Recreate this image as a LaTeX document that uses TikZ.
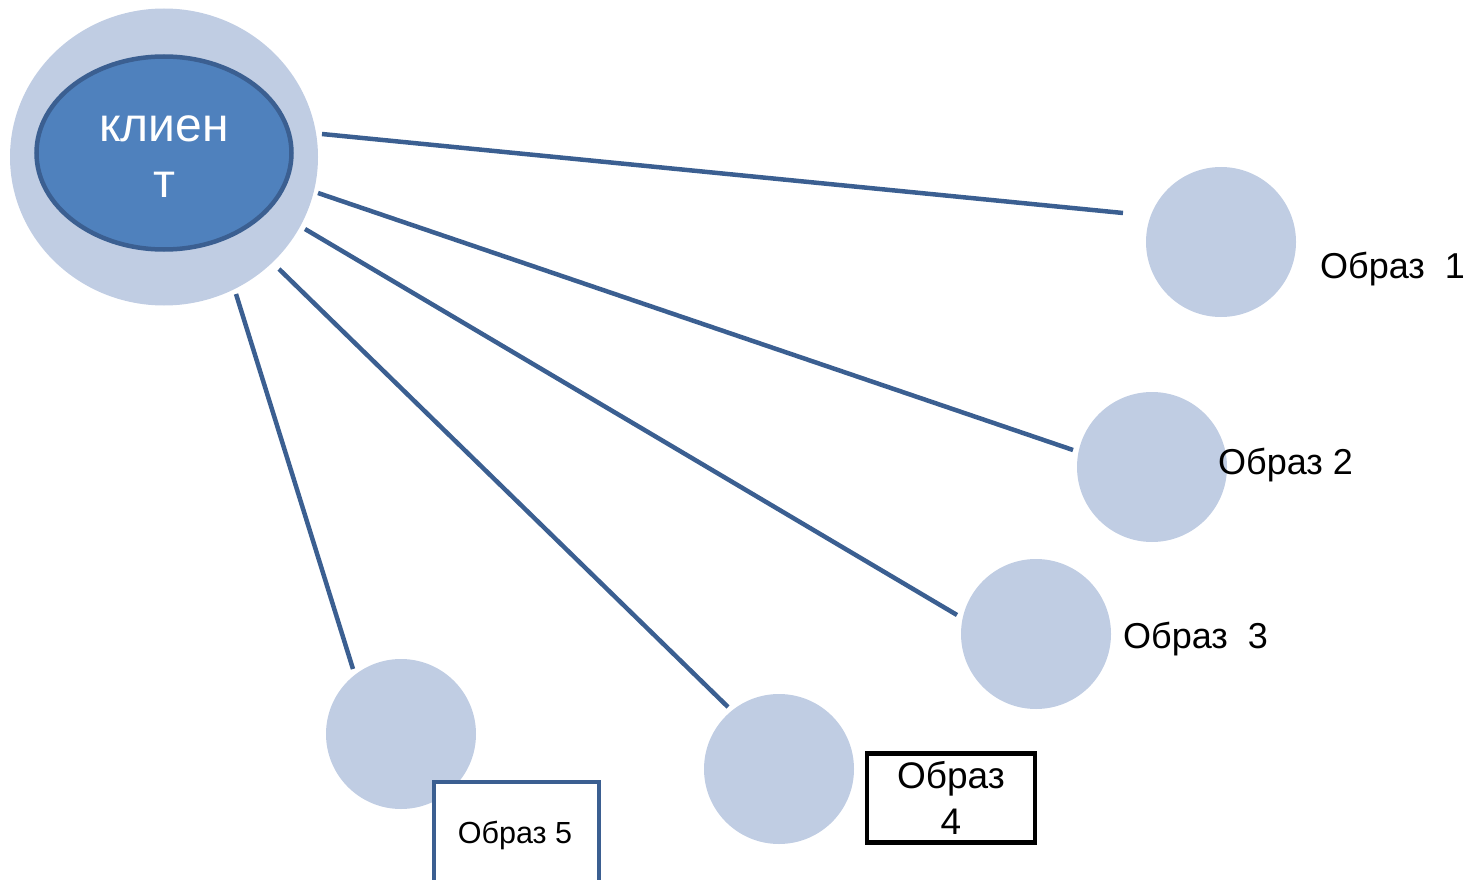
\documentclass[tikz,border=0pt]{standalone}
\usepackage{fontspec}
\setmainfont{Liberation Sans}
\usetikzlibrary{shapes.geometric}
\definecolor{lightblu}{RGB}{192,205,227}
\definecolor{midblu}{RGB}{79,129,189}
\definecolor{darkblu}{RGB}{59,95,145}
\begin{document}
\begin{tikzpicture}[x=1pt,y=-1pt,
  img/.style={circle,fill=lightblu,draw=none,minimum size=150pt,inner sep=0pt},
  link/.style={draw=darkblu,line width=4.5pt},
  lbl/.style={font=\fontsize{36}{42}\selectfont,inner sep=0pt,anchor=west}]
\useasboundingbox (0,0) rectangle (1470,880);
\node[ellipse,fill=lightblu,minimum width=308pt,minimum height=297pt,inner sep=0pt] (outer) at (164,157) {};
\node[ellipse,fill=midblu,draw=darkblu,line width=4.5pt,minimum width=255pt,minimum height=193pt,inner sep=0pt] (client) at (164,153) {};
\node[text=white,align=center,font=\fontsize{48}{56}\selectfont,inner sep=0pt] (clienttext) at (164,157) {клиен\\т};
% image circles
\node[img] (c1) at (1221,242) {};
\node[img] (c2) at (1152,467) {};
\node[img] (c3) at (1036,634) {};
\node[img] (c4) at (779,769) {};
\node[img] (c5) at (401,734) {};
% connector ends
\coordinate (a1) at (322,134); \coordinate (b1) at (1123,213);
\coordinate (a2) at (318,193); \coordinate (b2) at (1073,450);
\coordinate (a3) at (305,229); \coordinate (b3) at (957,615);
\coordinate (a4) at (279,269); \coordinate (b4) at (728,707);
\coordinate (a5) at (236,294); \coordinate (b5) at (353,669);
\draw[link] (a1) -- (b1);
\draw[link] (a2) -- (b2);
\draw[link] (a3) -- (b3);
\draw[link] (a4) -- (b4);
\draw[link] (a5) -- (b5);
% labels
\node[lbl] (l1) at (1320,269) {Образ\ \ 1};
\node[lbl] (l2) at (1218,465) {Образ 2};
\node[lbl] (l3) at (1123,639) {Образ\ \ 3};
\node[draw=black,line width=4.5pt,fill=white,minimum width=168pt,minimum height=89pt,inner sep=0pt] (l4) at (951,798) {};
\node[align=center,font=\fontsize{37}{46}\selectfont,inner sep=0pt] (l4text) at (951,798) {Образ\\4};
\node[draw=darkblu,line width=4pt,fill=white,minimum width=165pt,minimum height=100pt,inner sep=0pt] (l5) at (516,832) {};
\node[font=\fontsize{30.5}{34}\selectfont,inner sep=0pt] (l5text) at (515,835) {Образ 5};
\end{tikzpicture}
\end{document}
